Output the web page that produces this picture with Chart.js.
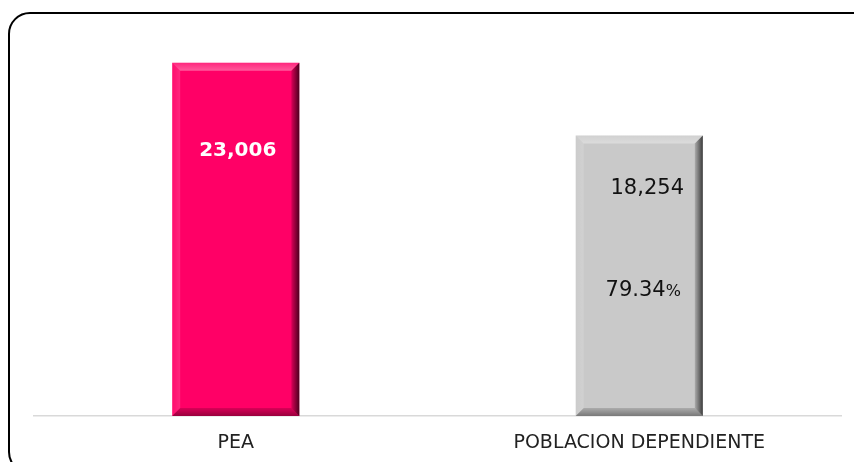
<!DOCTYPE html>
<html>
<head>
<meta charset="utf-8">
<script src="https://cdn.jsdelivr.net/npm/chart.js@4"></script>
<style>
  html, body { margin: 0; padding: 0; background: #fff; overflow: hidden; }
  #wrap { position: relative; width: 854px; height: 462px; overflow: hidden; }
  #frame {
    position: absolute; left: 8px; top: 12px; width: 870px; height: 462px;
    border: 2px solid #000; border-radius: 22px; box-sizing: border-box;
  }
  canvas { position: absolute; left: 0; top: 0; }
</style>
</head>
<body>
<div id="wrap">
  <div id="frame"></div>
  <canvas id="chart" width="854" height="462"></canvas>
</div>
<script>
// Chart data
const categories = ['PEA', 'POBLACION DEPENDIENTE'];
const values = [23006, 18254];
const barColors = ['#FF0066', '#C9C9C9'];

// share of dependent population relative to PEA
const percent = (values[1] / values[0] * 100).toFixed(2);

// Beveled "3D" look on the bars
const bevelPlugin = {
    id: 'bevel',
    afterDatasetsDraw(chart) {
        const ctx = chart.ctx;
        const b = 8;
        chart.getDatasetMeta(0).data.forEach(bar => {
            const l = bar.x - bar.width / 2, r = bar.x + bar.width / 2;
            const t = bar.y, btm = bar.base;
            ctx.save();
            // top face
            let g = ctx.createLinearGradient(0, t, 0, t + b);
            g.addColorStop(0, 'rgba(255,255,255,0.15)');
            g.addColorStop(1, 'rgba(255,255,255,0.35)');
            ctx.fillStyle = g;
            ctx.beginPath();
            ctx.moveTo(l, t); ctx.lineTo(r, t); ctx.lineTo(r - b, t + b); ctx.lineTo(l + b, t + b);
            ctx.closePath(); ctx.fill();
            // left face
            g = ctx.createLinearGradient(l, 0, l + b, 0);
            g.addColorStop(0, 'rgba(255,255,255,0.05)');
            g.addColorStop(1, 'rgba(255,255,255,0.15)');
            ctx.fillStyle = g;
            ctx.beginPath();
            ctx.moveTo(l, t); ctx.lineTo(l + b, t + b); ctx.lineTo(l + b, btm - b); ctx.lineTo(l, btm);
            ctx.closePath(); ctx.fill();
            // right face
            g = ctx.createLinearGradient(r - b, 0, r, 0);
            g.addColorStop(0, 'rgba(0,0,0,0.15)');
            g.addColorStop(1, 'rgba(0,0,0,0.7)');
            ctx.fillStyle = g;
            ctx.beginPath();
            ctx.moveTo(r, t); ctx.lineTo(r, btm); ctx.lineTo(r - b, btm - b); ctx.lineTo(r - b, t + b);
            ctx.closePath(); ctx.fill();
            // bottom face
            g = ctx.createLinearGradient(0, btm - b, 0, btm);
            g.addColorStop(0, 'rgba(0,0,0,0.15)');
            g.addColorStop(1, 'rgba(0,0,0,0.4)');
            ctx.fillStyle = g;
            ctx.beginPath();
            ctx.moveTo(l, btm); ctx.lineTo(r, btm); ctx.lineTo(r - b, btm - b); ctx.lineTo(l + b, btm - b);
            ctx.closePath(); ctx.fill();
            ctx.restore();
        });
    }
};

// Value labels drawn inside the bars
const labelPlugin = {
    id: 'barLabels',
    afterDatasetsDraw(chart) {
        const ctx = chart.ctx;
        const bars = chart.getDatasetMeta(0).data;
        ctx.save();
        ctx.textBaseline = 'middle';
        ctx.textAlign = 'center';

        // PEA value, bold white
        ctx.fillStyle = '#fff';
        ctx.font = 'bold 20px "DejaVu Sans"';
        ctx.fillText(values[0].toLocaleString('en-US'), bars[0].x + 2, bars[0].y + 88);

        // dependent population value and share
        ctx.fillStyle = '#111';
        ctx.font = '21px "DejaVu Sans"';
        ctx.fillText(values[1].toLocaleString('en-US'), bars[1].x + 8, bars[1].y + 53);

        ctx.textAlign = 'left';
        const num = percent;
        const w1 = ctx.measureText(num).width;
        ctx.font = '16px "DejaVu Sans"';
        const w2 = ctx.measureText('%').width;
        const x0 = bars[1].x + 4 - (w1 + w2) / 2;
        ctx.font = '21px "DejaVu Sans"';
        ctx.fillText(num, x0, bars[1].y + 155);
        ctx.font = '16px "DejaVu Sans"';
        ctx.fillText('%', x0 + w1, bars[1].y + 156);
        ctx.restore();
    }
};

const ctx = document.getElementById('chart').getContext('2d');
const chart = new Chart(ctx, {
    type: 'bar',
    data: {
        labels: categories,
        datasets: [{
            data: values,
            backgroundColor: barColors,
            borderWidth: 0,
            categoryPercentage: 1,
            barPercentage: 0.315
        }]
    },
    options: {
        responsive: false,
        animation: false,
        layout: { padding: { left: 34, right: 13, top: 32, bottom: 0 } },
        plugins: {
            legend: { display: false },
            tooltip: { enabled: false }
        },
        scales: {
            x: {
                grid: { display: false, drawTicks: false },
                border: { display: true, color: '#D9D9D9', width: 1.5 },
                ticks: {
                    color: '#222',
                    padding: 16,
                    font: { family: 'DejaVu Sans', size: 19 }
                },
                afterFit(scale) { scale.height = 46; }
            },
            y: {
                display: false,
                min: 0,
                max: 25000
            }
        }
    },
    plugins: [bevelPlugin, labelPlugin]
});
</script>
</body>
</html>
